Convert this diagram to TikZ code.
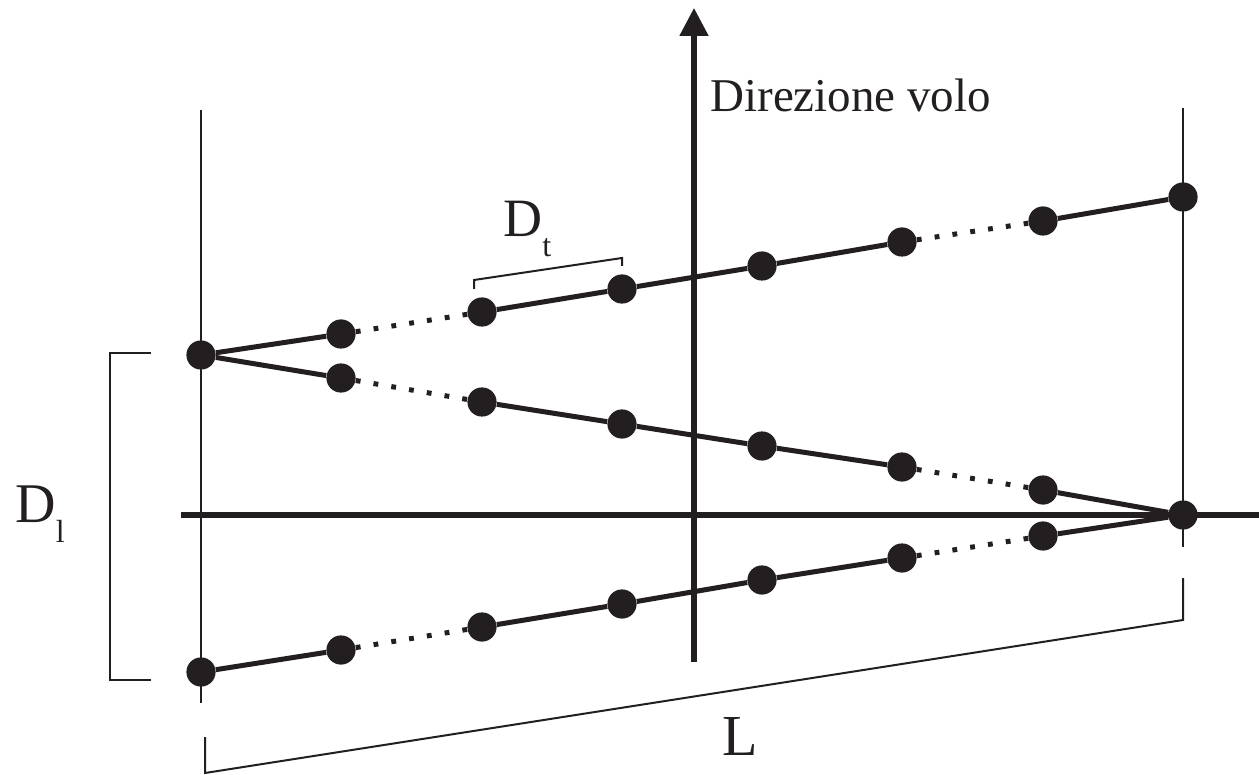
\documentclass[tikz,border=0pt]{standalone}
\usepackage{fontspec}
\setmainfont{Liberation Serif}
\usetikzlibrary{arrows.meta}
\definecolor{ink}{RGB}{35,31,32}
\tikzset{
  dotnode/.style={circle,fill=ink,draw=none,inner sep=0pt,minimum size=14.6pt},
  solidlink/.style={draw=ink,line width=2.5pt},
  dotlink/.style={draw=ink,line width=2.5pt,dash pattern=on 2.4pt off 6.6pt},
  thinline/.style={draw=ink,line width=1pt},
  axisline/.style={draw=ink,line width=2.6pt},
  lbl/.style={inner sep=0pt,anchor=base west,text=ink},
}
\begin{document}
\begin{tikzpicture}[x=0.5pt,y=-0.5pt]
\useasboundingbox (0,0) rectangle (1259,775);
% guide lines
\coordinate (lt) at (201,110);
\coordinate (lb) at (201,703);
\coordinate (rt) at (1183,108);
\coordinate (rb) at (1183,547);
\draw[thinline] (lt) -- (lb);
\draw[thinline] (rt) -- (rb);
% axes
\coordinate (hx0) at (181,515);
\coordinate (hx1) at (1259,515);
\coordinate (vy0) at (694,662);
\coordinate (vy1) at (694,8);
\draw[axisline] (hx0) -- (hx1);
\draw[axisline,-{Triangle[length=14pt,width=14pt]}] (vy0) -- (vy1);
% D_l bracket
\coordinate (dl1) at (151,353);
\coordinate (dl2) at (110,353);
\coordinate (dl3) at (110,680);
\coordinate (dl4) at (151,680);
\draw[thinline] (dl1) -- (dl2) -- (dl3) -- (dl4);
% L bracket
\coordinate (lb1) at (205,737);
\coordinate (lb2) at (205,773);
\coordinate (lb3) at (1183,620);
\coordinate (lb4) at (1183,578);
\draw[thinline] (lb1) -- (lb2) -- (lb3) -- (lb4);
% D_t bracket
\coordinate (dt1) at (474,289);
\coordinate (dt2) at (474,280);
\coordinate (dt3) at (622,258);
\coordinate (dt4) at (622,266);
\draw[thinline] (dt1) -- (dt2) -- (dt3) -- (dt4);
% dots
\node[dotnode] (p1) at (201,355) {};
\node[dotnode] (p2) at (341,334) {};
\node[dotnode] (p3) at (482,312) {};
\node[dotnode] (p4) at (622,289) {};
\node[dotnode] (p5) at (762,266) {};
\node[dotnode] (p6) at (902,242) {};
\node[dotnode] (p7) at (1043,221) {};
\node[dotnode] (p8) at (1183,197) {};
\node[dotnode] (q2) at (341,378) {};
\node[dotnode] (q3) at (482,402) {};
\node[dotnode] (q4) at (622,424) {};
\node[dotnode] (q5) at (762,446) {};
\node[dotnode] (q6) at (902,467) {};
\node[dotnode] (q7) at (1043,490) {};
\node[dotnode] (q8) at (1183,515) {};
\node[dotnode] (r1) at (201,672) {};
\node[dotnode] (r2) at (341,650) {};
\node[dotnode] (r3) at (482,627) {};
\node[dotnode] (r4) at (622,604) {};
\node[dotnode] (r5) at (762,580) {};
\node[dotnode] (r6) at (902,558) {};
\node[dotnode] (r7) at (1043,536) {};
% links
\draw[solidlink] (p1) -- (p2);
\draw[dotlink] (p2) -- (p3);
\draw[solidlink] (p3) -- (p4) -- (p5) -- (p6);
\draw[dotlink] (p6) -- (p7);
\draw[solidlink] (p7) -- (p8);
\draw[solidlink] (p1) -- (q2);
\draw[dotlink] (q2) -- (q3);
\draw[solidlink] (q3) -- (q4) -- (q5) -- (q6);
\draw[dotlink] (q6) -- (q7);
\draw[solidlink] (q7) -- (q8);
\draw[solidlink] (r1) -- (r2);
\draw[dotlink] (r2) -- (r3);
\draw[solidlink] (r3) -- (r4) -- (r5) -- (r6);
\draw[dotlink] (r6) -- (r7);
\draw[solidlink] (r7) -- (q8);
% labels
\node[lbl] (dir) at (710,112) {\fontsize{23.5}{28}\selectfont Direzione volo};
\node[lbl] (Dt) at (503,237) {\fontsize{27}{30}\selectfont D\raisebox{-10pt}{\fontsize{16}{18}\selectfont t}};
\node[lbl] (Dl) at (15,522) {\fontsize{28}{30}\selectfont D\raisebox{-10pt}{\fontsize{16}{18}\selectfont l}};
\node[lbl] (Ll) at (722,755) {\fontsize{29}{32}\selectfont L};
\end{tikzpicture}
\end{document}
